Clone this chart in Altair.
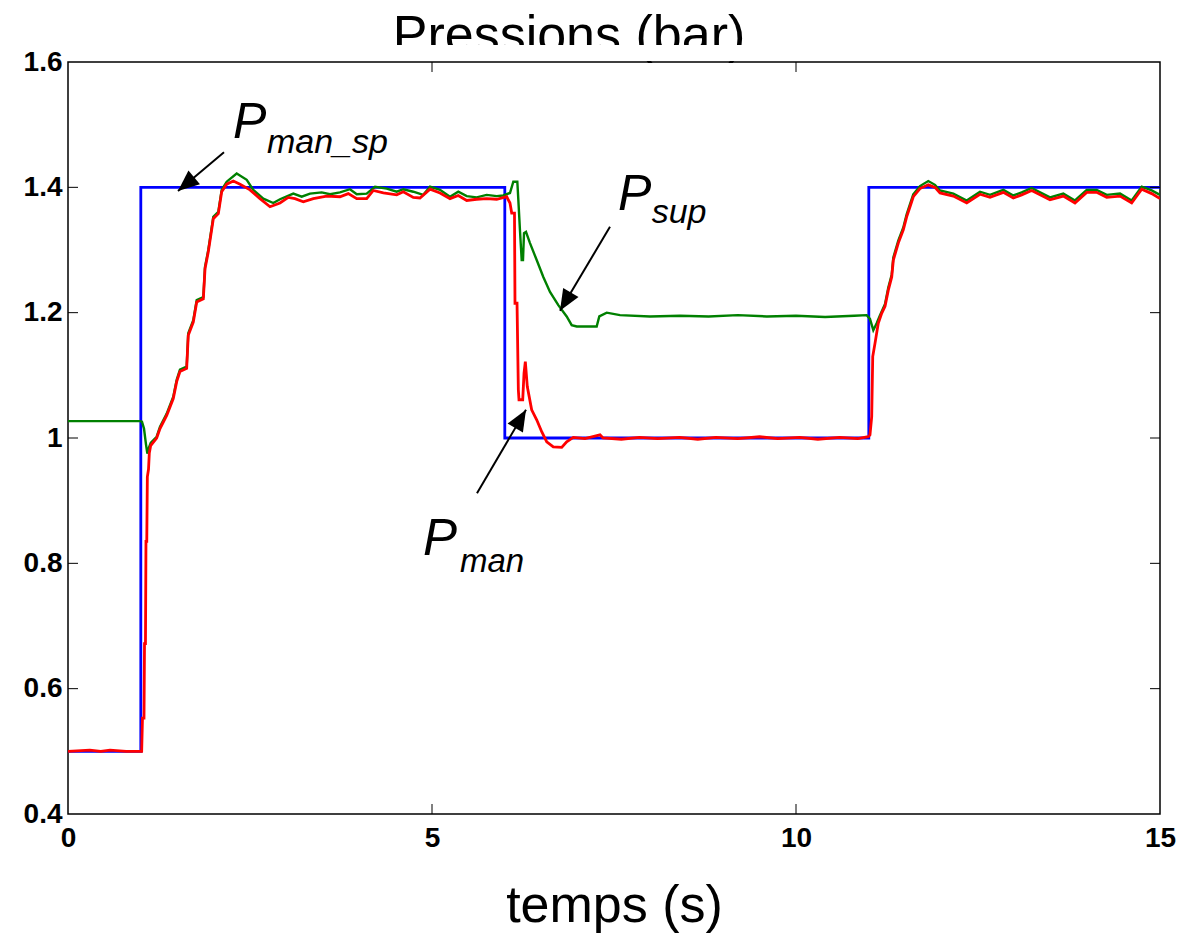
import math
import altair as alt
import pandas as pd

# ---------------- data ----------------
# set point P_man_sp
T_SP = [0, 1, 1, 6, 6, 11, 11, 15]
V_SP = [0.5, 0.5, 1.4, 1.4, 1.0, 1.0, 1.4, 1.4]

# supply pressure P_sup
T_SUP = [0, 0.989, 1.016, 1.044, 1.071, 1.090, 1.113, 1.136, 1.218, 1.264,
         1.356, 1.446, 1.493, 1.538, 1.630, 1.652, 1.721, 1.768, 1.859, 1.882,
         1.927, 1.996, 2.065, 2.111, 2.180, 2.317, 2.455, 2.545, 2.683, 2.820,
         2.912, 3.095, 3.210, 3.324, 3.485, 3.599, 3.736, 3.874, 3.966, 4.103,
         4.217, 4.378, 4.515, 4.606, 4.743, 4.880, 4.973, 5.110, 5.247, 5.361,
         5.477, 5.614, 5.751, 5.889, 5.979, 6.071, 6.117, 6.172, 6.186, 6.209,
         6.232, 6.250, 6.264, 6.291, 6.346, 6.438, 6.529, 6.621, 6.735, 6.850,
         6.919, 6.988, 7.262, 7.298, 7.400, 7.582, 7.995, 8.407, 8.80, 9.20,
         9.60, 10.00, 10.40, 10.80, 10.971, 11.016, 11.062, 11.108, 11.154, 11.223,
         11.268, 11.315, 11.337, 11.405, 11.474, 11.520, 11.566, 11.611, 11.703, 11.817,
         11.909, 11.978, 12.161, 12.345, 12.527, 12.665, 12.848, 12.985, 13.100, 13.237,
         13.489, 13.672, 13.832, 13.993, 14.130, 14.268, 14.451, 14.611, 14.749, 14.886,
         15.0]
V_SUP = [1.027, 1.027, 1.026, 1.015, 0.990, 0.975, 0.985, 0.992, 1.002, 1.018,
         1.039, 1.066, 1.093, 1.109, 1.114, 1.167, 1.188, 1.220, 1.225, 1.273,
         1.300, 1.353, 1.361, 1.396, 1.409, 1.422, 1.412, 1.396, 1.382, 1.375,
         1.381, 1.390, 1.385, 1.390, 1.392, 1.389, 1.392, 1.397, 1.389, 1.390,
         1.401, 1.398, 1.393, 1.397, 1.393, 1.388, 1.401, 1.396, 1.385, 1.393,
         1.386, 1.384, 1.388, 1.386, 1.387, 1.391, 1.409, 1.409, 1.380, 1.330,
         1.284, 1.284, 1.327, 1.329, 1.311, 1.284, 1.257, 1.233, 1.212, 1.194,
         1.180, 1.178, 1.178, 1.194, 1.200, 1.196, 1.194, 1.195, 1.194, 1.196,
         1.194, 1.195, 1.193, 1.195, 1.196, 1.190, 1.172, 1.183, 1.196, 1.214,
         1.240, 1.261, 1.288, 1.315, 1.336, 1.357, 1.373, 1.389, 1.402, 1.410,
         1.404, 1.395, 1.390, 1.379, 1.393, 1.388, 1.396, 1.387, 1.392, 1.399,
         1.384, 1.390, 1.379, 1.396, 1.396, 1.388, 1.390, 1.379, 1.401, 1.395,
         1.388]

# manifold pressure P_man (time, value)
P_MAN = [(0, 0.500), (0.30, 0.502), (0.45, 0.500), (0.577, 0.502), (0.80, 0.500),
         (0.989, 0.500), (1.012, 0.500), (1.023, 0.553), (1.044, 0.553), (1.051, 0.672),
         (1.064, 0.672), (1.071, 0.835), (1.082, 0.835), (1.090, 0.938), (1.106, 0.950),
         (1.117, 0.976), (1.136, 0.988), (1.218, 1.000), (1.264, 1.015), (1.356, 1.036),
         (1.446, 1.063), (1.493, 1.090), (1.538, 1.106), (1.630, 1.111), (1.652, 1.164),
         (1.721, 1.185), (1.768, 1.217), (1.859, 1.222), (1.882, 1.270), (1.927, 1.297),
         (1.996, 1.350), (2.065, 1.358), (2.111, 1.393), (2.180, 1.405), (2.271, 1.410),
         (2.363, 1.405), (2.500, 1.396), (2.637, 1.382), (2.775, 1.369), (2.912, 1.375),
         (3.026, 1.384), (3.118, 1.382), (3.232, 1.377), (3.370, 1.382), (3.554, 1.386),
         (3.736, 1.385), (3.850, 1.390), (3.966, 1.382), (4.103, 1.382), (4.194, 1.395),
         (4.332, 1.391), (4.515, 1.388), (4.606, 1.393), (4.743, 1.384), (4.835, 1.383),
         (4.973, 1.397), (5.110, 1.391), (5.247, 1.382), (5.361, 1.387), (5.477, 1.379),
         (5.614, 1.381), (5.751, 1.382), (5.889, 1.381), (6.026, 1.385), (6.071, 1.375),
         (6.095, 1.359), (6.133, 1.359), (6.140, 1.215), (6.168, 1.215), (6.186, 1.077),
         (6.195, 1.061), (6.246, 1.061), (6.264, 1.103), (6.282, 1.122), (6.309, 1.082),
         (6.369, 1.045), (6.438, 1.029), (6.507, 1.010), (6.576, 0.994), (6.666, 0.986),
         (6.782, 0.985), (6.850, 0.994), (6.941, 1.001), (7.102, 0.999), (7.308, 1.005),
         (7.349, 1.000), (7.60, 0.998), (7.85, 1.001), (8.10, 0.999), (8.40, 1.001),
         (8.65, 0.998), (8.90, 1.001), (9.20, 0.999), (9.50, 1.002), (9.75, 0.999),
         (10.05, 1.001), (10.30, 0.998), (10.60, 1.001), (10.85, 0.999), (10.993, 1.002),
         (11.016, 1.005), (11.040, 1.034), (11.054, 1.130), (11.085, 1.151), (11.130, 1.183),
         (11.177, 1.199), (11.223, 1.210), (11.268, 1.236), (11.315, 1.257), (11.337, 1.284),
         (11.405, 1.311), (11.474, 1.332), (11.520, 1.353), (11.566, 1.369), (11.611, 1.385),
         (11.703, 1.398), (11.817, 1.404), (11.909, 1.400), (11.978, 1.391), (12.161, 1.386),
         (12.345, 1.375), (12.527, 1.389), (12.665, 1.384), (12.848, 1.392), (12.985, 1.383),
         (13.100, 1.388), (13.237, 1.395), (13.489, 1.380), (13.672, 1.386), (13.832, 1.375),
         (13.993, 1.392), (14.130, 1.392), (14.268, 1.384), (14.451, 1.386), (14.611, 1.375),
         (14.749, 1.397), (14.886, 1.390), (15.0, 1.382)]

X_TICKS = [0, 5, 10, 15]
Y_TICKS = [0.4, 0.6, 0.8, 1.0, 1.2, 1.4, 1.6]
INNER_X = [5, 10]
INNER_Y = [0.6, 0.8, 1.0, 1.2, 1.4]

# annotation labels: text, t, v, font size
LABELS = [("P", 2.266, 1.479, 50), ("man_sp", 2.734, 1.454, 34),
          ("P", 7.555, 1.364, 50), ("sup", 8.017, 1.343, 34),
          ("P", 4.876, 0.813, 51), ("man", 5.385, 0.786, 33)]
# arrows: start (t, v) -> tip (t, v)
ARROWS = [(2.143, 1.456, 1.511, 1.394),
          (7.445, 1.337, 6.758, 1.203),
          (5.618, 0.912, 6.291, 1.045)]

TITLE = "Pressions (bar)"
XTITLE = "temps (s)"

# ---------------- chart ----------------
W, H = 1092, 752
XMIN, XMAX, YMIN, YMAX = 0, 15, 0.4, 1.6
FONT = "Liberation Sans"

xs = alt.Scale(domain=[XMIN, XMAX], nice=False, zero=False)
ys = alt.Scale(domain=[YMIN, YMAX], nice=False, zero=False)

df_sp = pd.DataFrame({"t": T_SP, "v": V_SP, "i": range(len(T_SP))})
df_sup = pd.DataFrame({"t": T_SUP, "v": V_SUP, "i": range(len(T_SUP))})
df_man = pd.DataFrame({"t": [p[0] for p in P_MAN], "v": [p[1] for p in P_MAN],
                       "i": range(len(P_MAN))})

x_axis = alt.Axis(values=X_TICKS, tickSize=0, domain=False, grid=False,
                  labelFontSize=28, labelFontWeight="bold", labelFont=FONT,
                  labelColor="black", labelPadding=10, labelFlush=False,
                  title=XTITLE, titleFont=FONT, titleFontSize=52,
                  titleFontWeight="normal", titleColor="black", titlePadding=28)
y_axis = alt.Axis(values=Y_TICKS, format="~g", tickSize=0, domain=False, grid=False,
                  labelFontSize=28, labelFontWeight="bold", labelFont=FONT,
                  labelColor="black", labelPadding=6, labelFlush=False, title="")


def X(field):
    return alt.X(field, type="quantitative", scale=xs, axis=x_axis)


def Y(field):
    return alt.Y(field, type="quantitative", scale=ys, axis=y_axis)


blue = alt.Chart(df_sp).mark_line(color="#0000ff", strokeWidth=2.8, clip=True).encode(
    x=X("t"), y=Y("v"), order="i:Q")

green = alt.Chart(df_sup).mark_line(color="#008000", strokeWidth=2.4, clip=True).encode(
    x=X("t"), y=Y("v"), order="i:Q")

red = alt.Chart(df_man).mark_line(color="#ff0000", strokeWidth=2.8, clip=True).encode(
    x=X("t"), y=Y("v"), order="i:Q")

# inward ticks (matlab style box)
dfx = pd.DataFrame({"t": INNER_X})
dfy = pd.DataFrame({"v": INNER_Y})
TL = 10
tick_style = dict(color="black", strokeWidth=1)
xt_bot = alt.Chart(dfx).mark_rule(**tick_style).encode(
    x=X("t"), y=alt.value(H), y2=alt.value(H - TL))
xt_top = alt.Chart(dfx).mark_rule(**tick_style).encode(
    x=X("t"), y=alt.value(0), y2=alt.value(TL))
yt_left = alt.Chart(dfy).mark_rule(**tick_style).encode(
    y=Y("v"), x=alt.value(0), x2=alt.value(TL))
yt_right = alt.Chart(dfy).mark_rule(**tick_style).encode(
    y=Y("v"), x=alt.value(W), x2=alt.value(W - TL))

# annotations
df_lab = pd.DataFrame(LABELS, columns=["txt", "t", "v", "fs"])
labels = alt.Chart(df_lab).mark_text(align="left", baseline="alphabetic",
                                     fontStyle="italic", font=FONT,
                                     color="black").encode(
    x=X("t"), y=Y("v"),
    text="txt:N",
    size=alt.Size("fs:Q", scale=None, legend=None))

px_t = W / (XMAX - XMIN)
px_v = H / (YMAX - YMIN)
arrow_rows = []
for t0, v0, t1, v1 in ARROWS:
    dx = (t1 - t0) * px_t
    dy = -(v1 - v0) * px_v
    ang = math.degrees(math.atan2(dx, -dy)) % 360
    arrow_rows.append({"t": t0, "v": v0, "t1": t1, "v1": v1, "ang": ang})
df_arr = pd.DataFrame(arrow_rows)

arrow_lines = alt.Chart(df_arr).mark_rule(color="black", strokeWidth=2).encode(
    x=X("t"), y=Y("v"), x2="t1:Q", y2="v1:Q")
arrow_heads = alt.Chart(df_arr).mark_point(
    shape="M0,0 L-0.42,1 L0.42,1 Z", filled=True, size=1800, color="black",
    opacity=1, strokeWidth=0).encode(
    x=X("t1"), y=Y("v1"),
    angle=alt.Angle("ang:Q", scale=None))

one = pd.DataFrame({"a": [0]})
title = alt.Chart(one).mark_text(text=TITLE, font=FONT, fontSize=52, align="center",
                                 baseline="alphabetic", color="black").encode(
    x=alt.value(501), y=alt.value(-10))
cover = alt.Chart(one).mark_rect(color="white").encode(
    x=alt.value(300), x2=alt.value(730), y=alt.value(-17), y2=alt.value(-1))

chart = alt.layer(blue, green, red, xt_bot, xt_top, yt_left, yt_right,
                  arrow_lines, arrow_heads, labels, title, cover).properties(
    width=W, height=H,
    padding={"left": 68, "top": 62, "right": 36, "bottom": 120},
    autosize=alt.AutoSizeParams(type="none"),
    background="white",
).configure_view(stroke="black", strokeWidth=1.5)

chart.save("out.html", embed_options={"renderer": "svg", "actions": False})
